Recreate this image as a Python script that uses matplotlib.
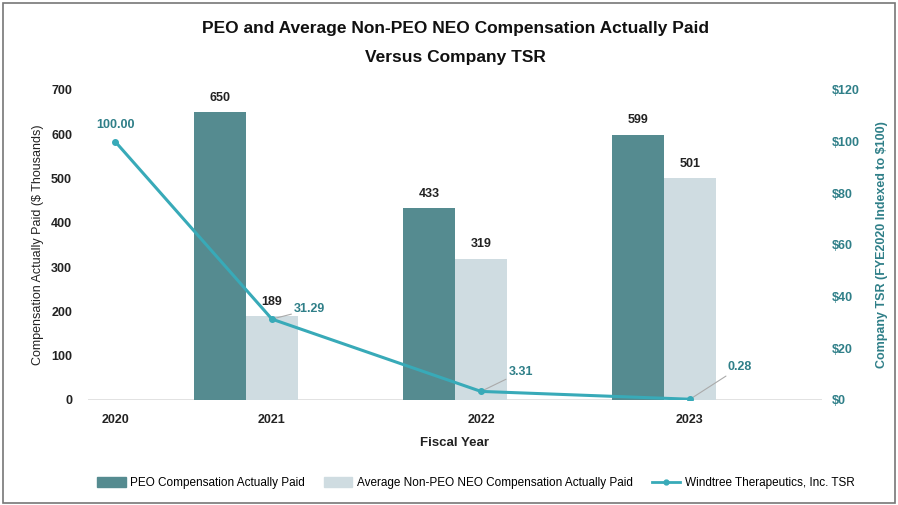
import numpy as np
import matplotlib.pyplot as plt
from matplotlib.patches import Rectangle
from matplotlib.lines import Line2D

plt.rcParams['font.family'] = ['Liberation Sans', 'DejaVu Sans']

years = ['2020', '2021', '2022', '2023']
peo_cap = [np.nan, 650, 433, 599]
neo_cap = [np.nan, 189, 319, 501]
tsr = [100.00, 31.29, 3.31, 0.28]
tsr_labels = ['100.00', '31.29', '3.31', '0.28']

dark = '#558b90'
light = '#cfdce1'
line_c = '#38aab8'
teal_txt = '#2f7f88'

fig = plt.figure(figsize=(8.98, 5.05), dpi=100)
ax = fig.add_axes([0.098, 0.208, 0.817, 0.614])
ax2 = ax.twinx()

xpos = np.array([0, 0.75, 1.75, 2.75])
w = 0.249

ax.bar(xpos - w, peo_cap, w, color=dark, label='PEO Compensation Actually Paid')
ax.bar(xpos, neo_cap, w, color=light, label='Average Non-PEO NEO Compensation Actually Paid')
for x, v in zip(xpos - w, peo_cap):
    if not np.isnan(v):
        ax.annotate(f'{v:.0f}', (x, v), xytext=(0, 6), textcoords='offset points',
                    ha='center', va='bottom', fontsize=9, fontweight='bold', color='#222222')
for x, v in zip(xpos, neo_cap):
    if not np.isnan(v):
        ax.annotate(f'{v:.0f}', (x, v), xytext=(0, 6), textcoords='offset points',
                    ha='center', va='bottom', fontsize=9, fontweight='bold', color='#222222')

ax2.plot(xpos, tsr, color=line_c, lw=2.2, marker='o', ms=4,
         label='Windtree Therapeutics, Inc. TSR', zorder=5)
offsets = [(0, 12), (16, 7), (20, 14), (27, 23)]
for i, (x, v) in enumerate(zip(xpos, tsr)):
    dx, dy = offsets[i]
    if i == 0:
        ax2.annotate(tsr_labels[i], (x, v), xytext=(dx, dy), textcoords='offset points',
                     ha='center', va='center', fontsize=9, fontweight='bold', color=teal_txt)
    else:
        ax2.annotate(tsr_labels[i], (x, v), xytext=(dx, dy), textcoords='offset points',
                     ha='left', va='center', fontsize=9, fontweight='bold', color=teal_txt,
                     arrowprops=dict(arrowstyle='-', color='#aaaaaa', lw=0.8,
                                     shrinkA=0, shrinkB=1))

ax.set_xlim(-0.13, 3.38)
ax.set_ylim(0, 700)
ax2.set_ylim(0, 120)
ax.set_yticks(range(0, 701, 100))
ax2.set_yticks(range(0, 121, 20))
ax2.set_yticklabels([f'${t}' for t in range(0, 121, 20)])
ax.set_xticks(xpos)
ax.set_xticklabels(years)

for a in (ax, ax2):
    for s in a.spines.values():
        s.set_visible(False)
    a.tick_params(length=0)
ax.axhline(0, color='#dddddd', lw=1.2, zorder=0)

for lab in ax.get_yticklabels() + ax.get_xticklabels():
    lab.set_fontweight('bold')
    lab.set_fontsize(9)
    lab.set_color('#222222')
for lab in ax2.get_yticklabels():
    lab.set_fontweight('bold')
    lab.set_fontsize(9)
    lab.set_color(teal_txt)
ax.tick_params(axis='y', pad=11.5)
ax.tick_params(axis='x', pad=10)
ax2.tick_params(axis='y', pad=7)

ax.set_ylabel('Compensation Actually Paid ($ Thousands)', fontsize=9, color='#222222', labelpad=5)
ax2.set_ylabel('Company TSR (FYE2020 Indexed to $100)', fontsize=9, fontweight='bold',
               color=teal_txt, labelpad=12)
ax.set_xlabel('Fiscal Year', fontsize=9.5, fontweight='bold', color='#222222', labelpad=8)

fig.text(0.507, 0.958, 'PEO and Average Non-PEO NEO Compensation Actually Paid\nVersus Company TSR',
         ha='center', va='top', fontsize=12.5, fontweight='bold', color='#111111', linespacing=2.15)

handles = [Rectangle((0, 0), 1, 1, color=dark), Rectangle((0, 0), 1, 1, color=light),
           Line2D([], [], color=line_c, lw=2, marker='o', ms=3.5)]
labels = ['PEO Compensation Actually Paid', 'Average Non-PEO NEO Compensation Actually Paid',
          'Windtree Therapeutics, Inc. TSR']
fig.legend(handles, labels, loc='center', bbox_to_anchor=(0.53, 0.043), ncol=3, frameon=False,
           fontsize=8.5, handlelength=2.4, handleheight=0.9, columnspacing=1.6, handletextpad=0.4)

fig.patches.append(Rectangle((0.003, 0.004), 0.994, 0.99, transform=fig.transFigure,
                             fill=False, edgecolor='#777777', lw=1.2))

fig.savefig('out.png', dpi=100)
